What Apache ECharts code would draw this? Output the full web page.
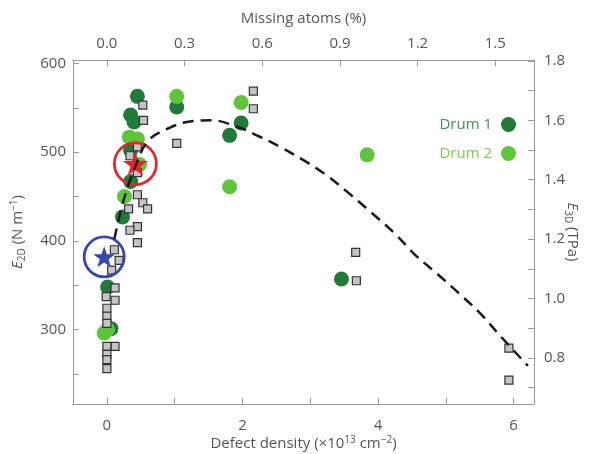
<!DOCTYPE html>
<html>
<head>
<meta charset="utf-8">
<script src="https://cdn.jsdelivr.net/npm/echarts@6/dist/echarts.min.js"></script>
<style>html,body{margin:0;padding:0;background:#fff;}#c{width:594px;height:454px;}</style>
</head>
<body>
<div id="c"></div>
<script>
// ---- data ----
const squares = [[0.53,553],[0.54,536],[1.03,510],[0.45,506],[0.34,496],[0.45,477],[0.45,452],[0.53,443],[0.60,436],[0.32,436],[0.45,416],[0.34,412],[0.45,398],[0.11,390],[0.18,378],[0.07,367],[0.12,347],[-0.01,337],[0.12,333],[0.0,324],[0.0,315],[0.0,307],[0.12,281],[0.0,281],[0.0,272],[0.0,266],[0.0,256],[2.16,569],[2.16,549],[3.67,387],[3.68,355],[5.93,279],[5.93,243]];
const drum1 = [[0.45,563],[1.03,551],[0.35,542],[0.40,534],[0.35,502],[0.35,467],[0.23,427],[0.01,348],[0.06,301],[1.98,533],[1.81,519],[3.46,357]];
const drum2 = [[1.03,563],[0.33,517],[0.45,515],[0.48,486],[0.26,450],[-0.04,296],[0.01,300],[1.98,556],[1.81,461],[3.84,497]];
const fitCurve = [[0.11,402],[0.24,444],[0.42,484],[0.61,513],[0.91,527],[1.25,535],[1.54,536],[1.91,529],[2.24,518],[2.58,505],[2.9,491],[3.22,475],[3.55,455],[3.9,432],[4.25,408],[4.55,384],[4.87,363],[5.19,341],[5.51,318],[5.8,293],[6.21,259]];
const blueStar = [[-0.04,382]];
const redStar = [[0.42,487]];
const xTicks = [0,1,2,3,4,5,6];
const xLabels = [0,2,4,6];
const topLabels = [0,0.3,0.6,0.9,1.2,1.5];
const yTicks = [250,300,350,400,450,500,550,600];
const yLabels = [300,400,500,600];
const rTicks = [0.7,0.8,0.9,1.0,1.1,1.2,1.3,1.4,1.5,1.6,1.7,1.8];
const rLabels = [0.8,1.0,1.2,1.4,1.6,1.8];
const xMin = -0.5, xMax = 6.3, yMin = 216, yMax = 604;
const pctPerUnit = 0.2618;   // % missing atoms per 1e13 cm^-2
const tpaPerNm = 1/335;      // TPa per N/m

const axisCol = '#9a9a9a';
const labCol = '#555';
const font = 'Open Sans';
const starPath = 'path://M0,-10 L2.35,-3.24 L9.51,-3.09 L3.8,1.24 L5.88,8.09 L0,4 L-5.88,8.09 L-3.8,1.24 L-9.51,-3.09 L-2.35,-3.24 Z';

function axisBase(){
  return {
    type:'value',
    axisLine:{show:true,onZero:false,lineStyle:{color:axisCol,width:1}},
    axisTick:{show:true,inside:true,length:6,lineStyle:{color:axisCol}},
    axisLabel:{color:labCol,fontFamily:font,fontSize:15},
    splitLine:{show:false},
    nameLocation:'middle',
    nameMoveOverlap:false,
    nameTextStyle:{color:labCol,fontFamily:font,fontSize:15}
  };
}
const rich = {
  i:{fontStyle:'italic',fontFamily:font,fontSize:15,color:labCol},
  sub:{fontFamily:font,fontSize:10,color:labCol,verticalAlign:'bottom',padding:[8,0,0,0]},
  sup:{fontFamily:font,fontSize:10,color:labCol,verticalAlign:'top',padding:[0,0,8,0]},
  n:{fontFamily:font,fontSize:15,color:labCol}
};

const bottomX = Object.assign(axisBase(), {
  position:'bottom', min:xMin, max:xMax,
  name:'{n|Defect density (×10}{sup|13}{n| cm}{sup|−2}{n|)}', nameGap:31,
  nameTextStyle:{rich:rich},
  axisTick:{show:true,inside:true,length:6,lineStyle:{color:axisCol},customValues:xTicks},
  axisLabel:{color:labCol,fontFamily:font,fontSize:15,margin:14,customValues:xLabels}
});
const topX = Object.assign(axisBase(), {
  position:'top', min:xMin*pctPerUnit, max:xMax*pctPerUnit,
  name:'Missing atoms (%)', nameGap:34,
  axisTick:{show:true,inside:true,length:6,lineStyle:{color:axisCol},customValues:topLabels},
  axisLabel:{color:labCol,fontFamily:font,fontSize:15,margin:9,customValues:topLabels,formatter:v=>v.toFixed(1)}
});
const leftY = Object.assign(axisBase(), {
  position:'left', min:yMin, max:yMax,
  name:'{i|E}{sub|2D}{n| (N m}{sup|−1}{n|)}', nameGap:46,
  nameTextStyle:{rich:rich},
  axisTick:{show:true,inside:true,length:6,lineStyle:{color:axisCol},customValues:yTicks},
  axisLabel:{color:labCol,fontFamily:font,fontSize:15,margin:7,customValues:yLabels}
});
const rightY = Object.assign(axisBase(), {
  position:'right', min:yMin*tpaPerNm, max:yMax*tpaPerNm,
  name:'{i|E}{sub|3D}{n| (TPa)}', nameGap:29, nameRotate:-90,
  nameTextStyle:{rich:rich},
  axisTick:{show:true,inside:true,length:6,lineStyle:{color:axisCol},customValues:rTicks},
  axisLabel:{color:labCol,fontFamily:font,fontSize:15,margin:10,customValues:rLabels,formatter:v=>v.toFixed(1)}
});

const chart = echarts.init(document.getElementById('c'), null, {renderer:'canvas'});
chart.setOption({
  animation:false,
  backgroundColor:'#fff',
  grid:{left:73,right:60,top:60,bottom:50,containLabel:false,outerBoundsMode:'none'},
  xAxis:[bottomX, topX],
  yAxis:[leftY, rightY],
  legend:{
    orient:'vertical', right:73, top:112, align:'right', itemGap:14,
    itemWidth:15, itemHeight:15, icon:'circle',
    textStyle:{fontFamily:font,fontSize:15,padding:[0,4,0,0]},
    data:[{name:'Drum 1',textStyle:{color:'#4a8a5c'}},{name:'Drum 2',textStyle:{color:'#74cc4c'}}]
  },
  series:[
    {name:'Drum 1',type:'scatter',data:drum1,symbol:'circle',symbolSize:15,z:2,itemStyle:{color:'#1f7b37',opacity:1}},
    {name:'Drum 2',type:'scatter',data:drum2,symbol:'circle',symbolSize:15,z:2,itemStyle:{color:'#5ec43a',opacity:1}},
    {name:'Sim',type:'scatter',data:squares,symbol:'rect',symbolSize:8,z:3,itemStyle:{color:'#c4c4c4',borderColor:'#333',borderWidth:1.2,opacity:1}},
    {name:'BlueRing',type:'scatter',data:blueStar,symbol:'circle',symbolSize:40,z:4,itemStyle:{color:'rgba(0,0,0,0)',borderColor:'#3447ad',borderWidth:2.8,opacity:1}},
    {name:'BlueStar',type:'scatter',data:blueStar,symbol:starPath,symbolKeepAspect:true,symbolSize:22,z:4,itemStyle:{color:'#3447ad',opacity:1}},
    {name:'RedRing',type:'scatter',data:redStar,symbol:'circle',symbolSize:42,z:4,itemStyle:{color:'rgba(0,0,0,0)',borderColor:'#e3262b',borderWidth:2.8,opacity:1}},
    {name:'RedStar',type:'scatter',data:redStar,symbol:starPath,symbolKeepAspect:true,symbolSize:25,z:4,itemStyle:{color:'#e3262b',opacity:1}},
    {name:'Fit',type:'line',data:fitCurve,smooth:0.4,showSymbol:false,symbol:'none',z:5,lineStyle:{color:'#1a1a1a',width:2.5,type:[11,7]}}
  ]
});
</script>
</body>
</html>
